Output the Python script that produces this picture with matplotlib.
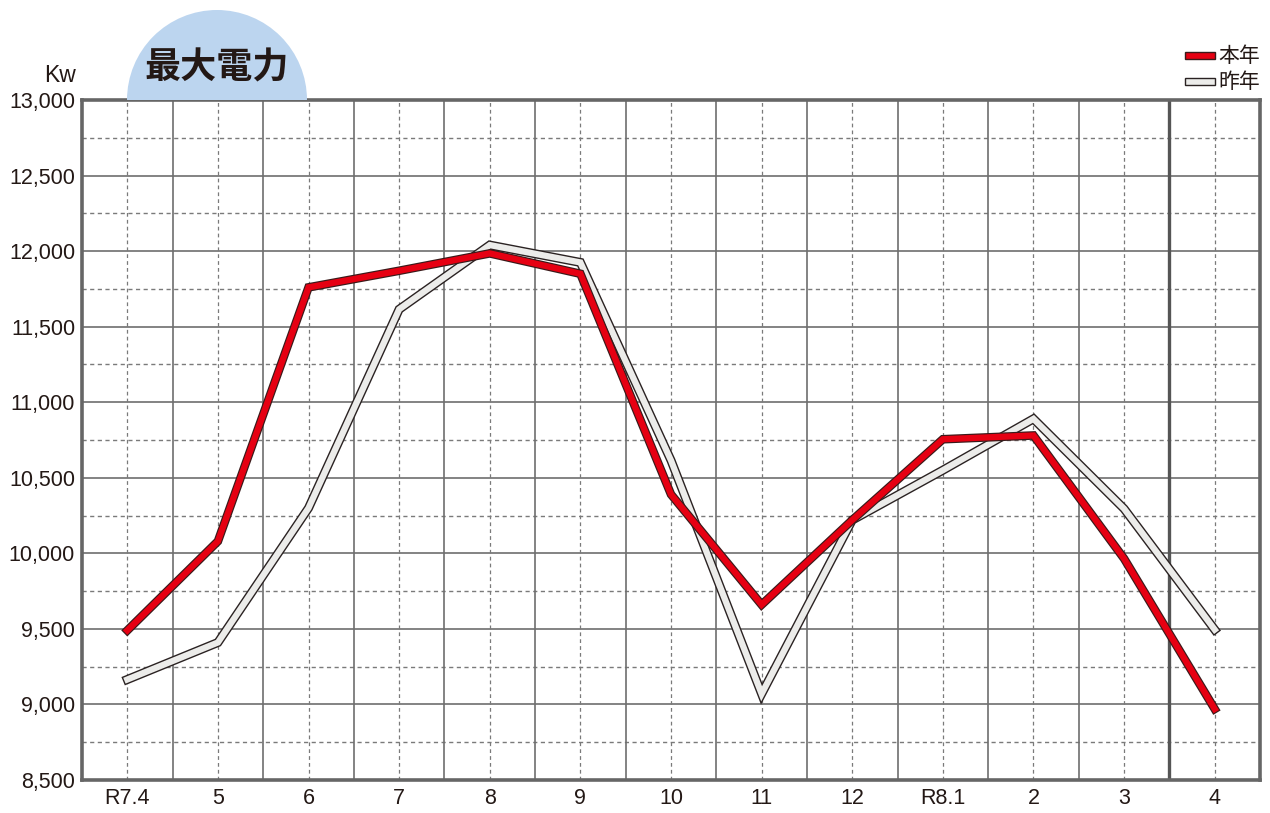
import matplotlib
matplotlib.use('Agg')
import matplotlib.pyplot as plt
import matplotlib.patches as mpatches
import matplotlib.patheffects as pe
import numpy as np

plt.rcParams['font.family'] = ['Liberation Sans', 'Noto Sans CJK JP', 'DejaVu Sans']

months = ['R7.4', '5', '6', '7', '8', '9', '10', '11', '12', 'R8.1', '2', '3', '4']
this_year = [9490, 10080, 11760, 11870, 11985, 11850, 10390, 9660, 10220, 10755, 10780, 9965, 8970]
last_year = [9165, 9410, 10300, 11615, 12040, 11925, 10615, 9070, 10220, 10550, 10890, 10295, 9495]
y_ticks = [8500, 9000, 9500, 10000, 10500, 11000, 11500, 12000, 12500, 13000]

W, H = 1270, 813
fig = plt.figure(figsize=(W / 100, H / 100), dpi=100)
ax = fig.add_axes([82 / W, (H - 780) / H, 1178 / W, 680 / H])

x = np.arange(len(months))
ax.set_xlim(-0.5, len(months) - 0.5)
ax.set_ylim(8500, 13000)

# grid: solid every 500 / at month borders, dotted in between / at month centers
for v in y_ticks[1:-1]:
    ax.axhline(v, color='#6e6e6e', lw=1.2, zorder=1)
for v in np.arange(8750, 13000, 500):
    ax.axhline(v, color='#7a7a7a', lw=1.0, ls=(0, (3, 2.5)), zorder=1)
for v in np.arange(0.5, len(months) - 1, 1):
    ax.axvline(v, color='#6e6e6e', lw=1.2, zorder=1)
for v in x:
    ax.axvline(v, color='#7a7a7a', lw=0.9, ls=(0, (3, 2.5)), zorder=1)
# fiscal year boundary
ax.axvline(11.5, color='#555555', lw=2.4, zorder=2)

# last year (white line with dark outline)
ax.plot(x, last_year, color='#ececea', lw=4.5, solid_joinstyle='miter', zorder=3,
        path_effects=[pe.Stroke(linewidth=6.5, foreground='#2a2222'), pe.Normal()])
# this year (red line with dark outline)
ax.plot(x, this_year, color='#e60012', lw=4.5, solid_joinstyle='miter', zorder=4,
        path_effects=[pe.Stroke(linewidth=6.2, foreground='#3a1a1a'), pe.Normal()])

ax.set_xticks(x)
ax.set_xticklabels(months)
ax.set_yticks(y_ticks)
ax.set_yticklabels(['{:,}'.format(v) for v in y_ticks])
ax.tick_params(length=0, labelsize=15.5, colors='#231815', pad=6)
ax.tick_params(axis='y', pad=5)
for s in ax.spines.values():
    s.set_color('#666666')
    s.set_linewidth(2.6)
    s.set_zorder(5)

# title semicircle
wedge = mpatches.Wedge((2.17, (H - 100) / 100), 0.9, 0, 180, facecolor='#bcd5ef',
                       edgecolor='none', transform=fig.dpi_scale_trans, zorder=0)
fig.patches.append(wedge)
fig.text(217 / W, 1 - 68 / H, '最大電力', family=['Noto Sans CJK JP'], weight='bold',
         fontsize=26, color='#231815', ha='center', va='center')

fig.text(76 / W, 1 - 76 / H, 'Kw', fontsize=16.5, color='#231815', ha='right', va='center')

# legend
fig.patches.append(mpatches.Rectangle((1185 / W, 1 - 59 / H), 30 / W, 7 / H, transform=fig.transFigure,
                                      facecolor='#e60012', edgecolor='#3a1a1a', lw=1.0))
fig.patches.append(mpatches.Rectangle((1185 / W, 1 - 85 / H), 30 / W, 7 / H, transform=fig.transFigure,
                                      facecolor='#ececea', edgecolor='#2a2222', lw=1.0))
fig.text(1218 / W, 1 - 56 / H, '本年', family=['Noto Sans CJK JP'], fontsize=15,
         color='#231815', ha='left', va='center')
fig.text(1218 / W, 1 - 82 / H, '昨年', family=['Noto Sans CJK JP'], fontsize=15,
         color='#231815', ha='left', va='center')

fig.savefig('out.png', dpi=100)
